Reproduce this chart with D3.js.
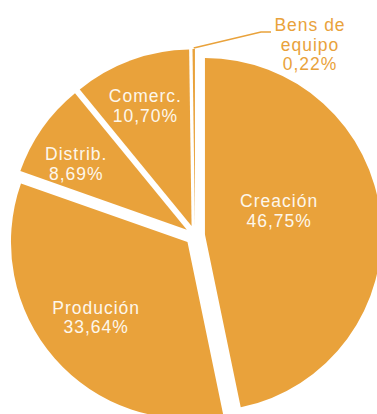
<!DOCTYPE html>
<html>
<head>
<meta charset="utf-8">
<script src="https://cdn.jsdelivr.net/npm/d3@7"></script>
<style>
  html, body { margin: 0; padding: 0; background: #ffffff; }
  svg { display: block; }
</style>
</head>
<body>
<svg id="chart" width="377" height="414"></svg>
<script>
// Shares of the value chain (percent)
const categories = ["Creación", "Produción", "Distrib.", "Comerc.", "Bens de equipo"];
const values = [46.75, 33.64, 8.69, 10.70, 0.22];
const valueLabels = ["46,75%", "33,64%", "8,69%", "10,70%", "0,22%"];

const fill = "#E9A23B";
const inkLight = "#fdf7ec";

const svg = d3.select("#chart");
const cx = 195, cy = 235.5;      // pie centre before explosion
const radius = 176.5;
const explode = 10;

const pie = d3.pie().sort(null).value(d => d.value).startAngle(0).endAngle(2 * Math.PI);
const arcs = pie(categories.map((c, i) => ({ name: c, value: values[i], label: valueLabels[i] })));

const arc = d3.arc().innerRadius(0).outerRadius(radius);

// every slice is pulled out along its bisector
const offset = d => {
  const a = (d.startAngle + d.endAngle) / 2;
  return [explode * Math.sin(a), -explode * Math.cos(a)];
};

const slices = svg.append("g")
  .selectAll("g")
  .data(arcs)
  .join("g")
  .attr("transform", d => {
    const [dx, dy] = offset(d);
    return `translate(${cx + dx},${cy + dy})`;
  });

slices.append("path")
  .attr("d", arc)
  .attr("fill", fill);

// inside labels: polar placement (angle in degrees, distance from slice centre)
const inside = {
  "Creación": [72, 78],
  "Produción": [230.7, 118],
  "Distrib.": [301, 129],
  "Comerc.": [339, 129]
};
const lineGap = 19.5;

slices.filter(d => inside[d.data.name])
  .each(function (d) {
    const [deg, dist] = inside[d.data.name];
    const a = deg * Math.PI / 180;
    const x = dist * Math.sin(a), y = -dist * Math.cos(a);
    const t = d3.select(this).append("text")
      .attr("text-anchor", "middle")
      .attr("font-family", "Liberation Sans, Arial, sans-serif")
      .attr("font-size", 17.5)
      .attr("letter-spacing", 1)
      .attr("fill", inkLight);
    t.append("tspan").attr("x", x).attr("y", y - lineGap / 2 + 6.5).text(d.data.name);
    t.append("tspan").attr("x", x).attr("y", y + lineGap / 2 + 6.5).text(d.data.label);
  });

// outside label for the thin slice, with a leader line
const small = arcs[4];
const [sdx, sdy] = offset(small);
const mid = (small.startAngle + small.endAngle) / 2;
const sx = cx + sdx + (radius + 1) * Math.sin(mid);
const sy = cy + sdy - (radius + 1) * Math.cos(mid);

svg.append("path")
  .attr("d", d3.line()([[sx, sy], [261, 32], [271, 32]]))
  .attr("fill", "none")
  .attr("stroke", fill)
  .attr("stroke-width", 1.5);

const bt = svg.append("text")
  .attr("text-anchor", "middle")
  .attr("font-family", "Liberation Sans, Arial, sans-serif")
  .attr("font-size", 17.5)
  .attr("letter-spacing", 1)
  .attr("fill", fill);
const nameParts = small.data.name.split(" ");
bt.append("tspan").attr("x", 310).attr("y", 31).text(nameParts.slice(0, 2).join(" "));
bt.append("tspan").attr("x", 310).attr("y", 50.5).text(nameParts.slice(2).join(" "));
bt.append("tspan").attr("x", 310).attr("y", 70).text(small.data.label);
</script>
</body>
</html>
